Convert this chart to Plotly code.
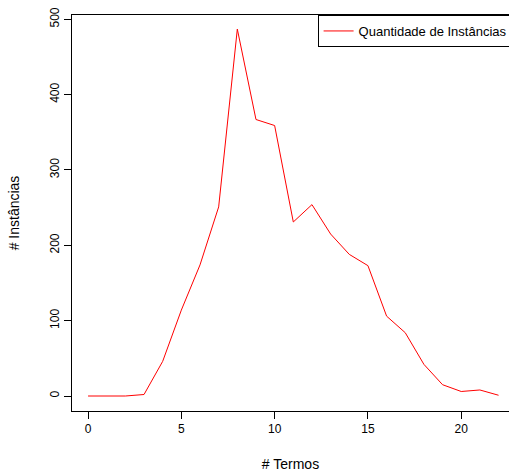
import plotly.graph_objects as go

termos = list(range(0, 23))
instancias = [0, 0, 0, 2, 46, 114, 174, 251, 487, 367, 359, 231, 254, 215, 188, 173,
              106, 84, 42, 15, 6, 8, 1]

series_name = "Quantidade de Instâncias"
x_title = "# Termos"
y_title = "# Instâncias"
x_ticks = [0, 5, 10, 15, 20]
y_ticks = [0, 100, 200, 300, 400, 500]

font = dict(family="Liberation Sans, Arial, sans-serif", size=12, color="black")

fig = go.Figure()
fig.add_trace(go.Scatter(x=termos, y=instancias, mode="lines", name=series_name,
                         line=dict(color="red", width=1)))

fig.update_layout(
    width=509, height=472,
    margin=dict(l=72, r=0, t=15, b=61, autoexpand=False),
    paper_bgcolor="white", plot_bgcolor="white",
    font=font,
    showlegend=True,
    legend=dict(x=0.562, y=1, xanchor="left", yanchor="top",
                bordercolor="black", borderwidth=1, bgcolor="white",
                font=dict(size=13), itemwidth=30),
    xaxis=dict(range=[-0.86, 22.56], tickvals=x_ticks, ticks="outside", ticklen=7,
               tickcolor="black", showline=True, linecolor="black", linewidth=1,
               mirror=True, showgrid=False, zeroline=False,
               title=dict(text=x_title, standoff=24)),
    yaxis=dict(range=[-19.9, 505.7], tickvals=y_ticks, ticks="outside", ticklen=7,
               tickcolor="black", showline=True, linecolor="black", linewidth=1,
               mirror=False, showgrid=False, zeroline=False, tickangle=-90,
               title=dict(text=y_title, standoff=25)),
)

fig.write_html("out.html")
